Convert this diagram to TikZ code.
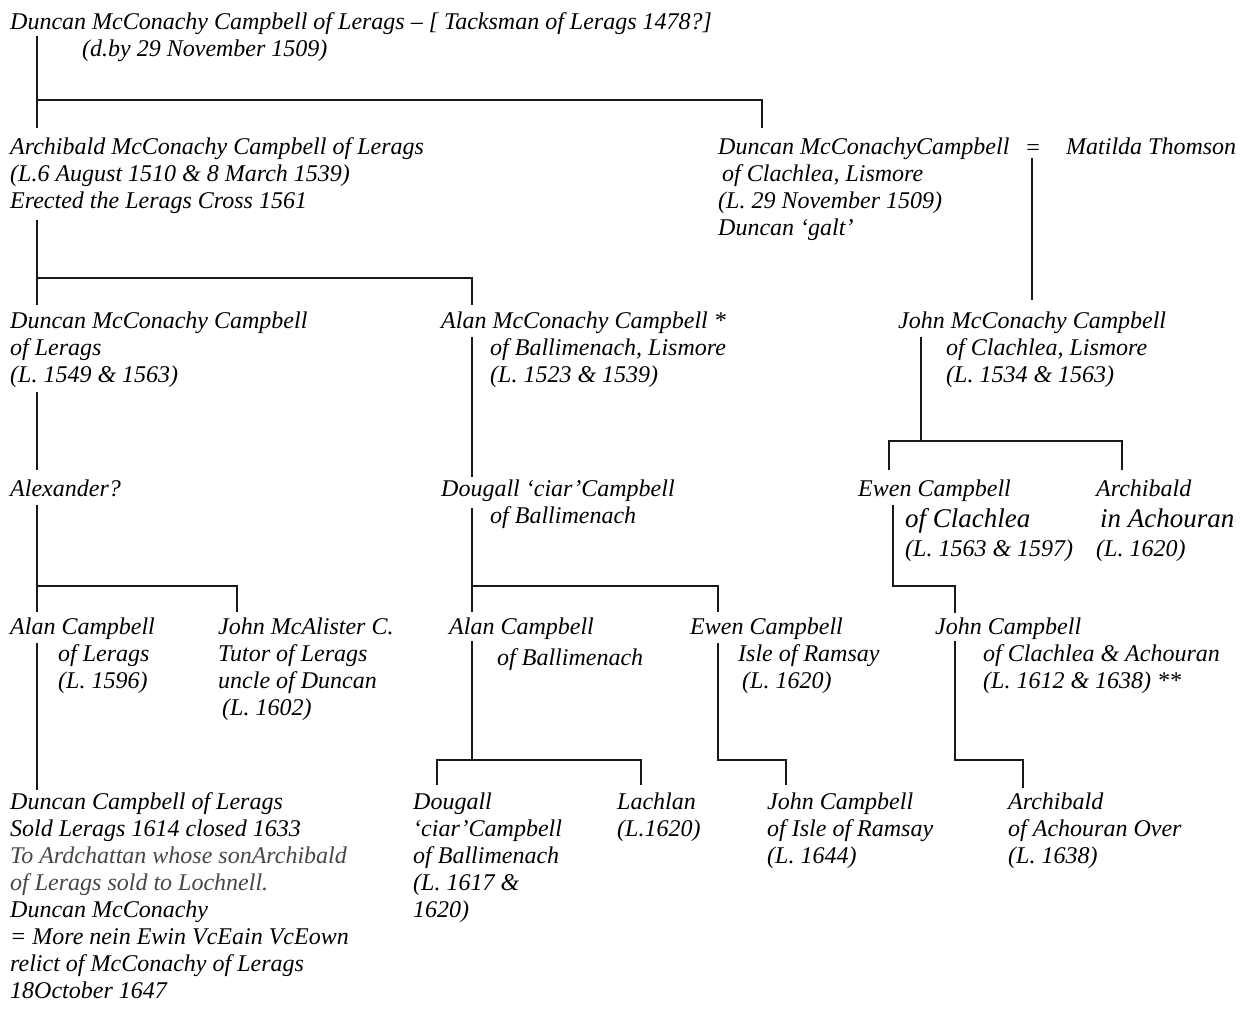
\documentclass[tikz,border=0pt]{standalone}
\usepackage{fontspec}
\setmainfont{Liberation Serif}
\newcommand{\ind}[1]{\hspace*{#1pt}}
\newcommand{\bigtxt}[1]{{\fontsize{27}{27}\selectfont #1}}
\newcommand{\rows}[1]{\begin{tabular}[t]{@{}l@{}}#1\end{tabular}}
\begin{document}
\begin{tikzpicture}[x=1pt,y=-1pt,
  person/.style={anchor=base west,inner sep=0pt,
    font=\fontsize{24}{27}\selectfont\itshape,text=black},
  link/.style={line width=2.3pt,draw=black!90,line cap=butt}]
\useasboundingbox[fill=white] (0,0) rectangle (1245,1012);
% ---------- people ----------
\node[person] (p0) at (10,29) {\rows{Duncan McConachy Campbell of Lerags -- [ Tacksman of Lerags 1478?]\\\ind{72}(d.by 29 November 1509)}};
\node[person] (p1) at (10,154) {\rows{Archibald McConachy Campbell of Lerags\\(L.6 August 1510 \& 8 March 1539)\\Erected the Lerags Cross 1561}};
\node[person] (p2) at (718,154) {\rows{Duncan McConachyCampbell\\\ind{4}of Clachlea, Lismore\\(L. 29 November 1509)\\Duncan ‘galt’}};
\node[person,anchor=base] (eq) at (1033,155) {=};
\node[person] (mt) at (1066,154) {Matilda Thomson};
\node[person] (p3) at (10,328) {\rows{Duncan McConachy Campbell\\of Lerags\\(L. 1549 \& 1563)}};
\node[person] (p4) at (441,328) {\rows{Alan McConachy Campbell *\\\ind{49}of Ballimenach, Lismore\\\ind{49}(L. 1523 \& 1539)}};
\node[person] (p5) at (898,328) {\rows{John McConachy Campbell\\\ind{48}of Clachlea, Lismore\\\ind{48}(L. 1534 \& 1563)}};
\node[person] (p6) at (10,496) {Alexander?};
\node[person] (p7) at (441,496) {\rows{Dougall ‘ciar’Campbell\\\ind{49}of Ballimenach}};
\node[person] (p8) at (858,496) {\rows{Ewen Campbell\\[4pt]\ind{47}\bigtxt{of Clachlea}\\[2pt]\ind{47}(L. 1563 \& 1597)}};
\node[person] (p9) at (1096,496) {\rows{Archibald\\[4pt]\ind{4}\bigtxt{in Achouran}\\[2pt](L. 1620)}};
\node[person] (p10) at (10,634) {\rows{Alan Campbell\\\ind{48}of Lerags\\\ind{48}(L. 1596)}};
\node[person] (p11) at (218,634) {\rows{John McAlister C.\\Tutor of Lerags\\uncle of Duncan\\\ind{4}(L. 1602)}};
\node[person] (p12) at (449,634) {\rows{Alan Campbell\\[4pt]\ind{48}of Ballimenach}};
\node[person] (p13) at (690,634) {\rows{Ewen Campbell\\\ind{48}Isle of Ramsay\\\ind{52}(L. 1620)}};
\node[person] (p14) at (935,634) {\rows{John Campbell\\\ind{48}of Clachlea \& Achouran\\\ind{48}(L. 1612 \& 1638) **}};
\node[person] (p15) at (10,809) {\rows{Duncan Campbell of Lerags\\Sold Lerags 1614 closed 1633\\{\color{black!72}To Ardchattan whose sonArchibald}\\{\color{black!72}of Lerags sold to Lochnell.}\\Duncan McConachy\\= More nein Ewin VcEain VcEown\\relict of McConachy of Lerags\\18October 1647}};
\node[person] (p16) at (413,809) {\rows{Dougall\\‘ciar’Campbell\\of Ballimenach\\(L. 1617 \&\\1620)}};
\node[person] (p17) at (617,809) {\rows{Lachlan\\(L.1620)}};
\node[person] (p18) at (767,809) {\rows{John Campbell\\of Isle of Ramsay\\(L. 1644)}};
\node[person] (p19) at (1008,809) {\rows{Archibald\\of Achouran Over\\(L. 1638)}};
% ---------- junction coordinates ----------
\coordinate (a0) at (37,36);   \coordinate (a1) at (37,100);
\coordinate (a2) at (37,128);  \coordinate (a3) at (762,100); \coordinate (a4) at (762,128);
\coordinate (b0) at (37,220);  \coordinate (b1) at (37,278);  \coordinate (b2) at (37,305);
\coordinate (b3) at (472,278); \coordinate (b4) at (472,305);
\coordinate (c0) at (37,392);  \coordinate (c1) at (37,470);
\coordinate (d0) at (472,337); \coordinate (d1) at (472,477);
\coordinate (e0) at (1032,158);\coordinate (e1) at (1032,300);
\coordinate (f0) at (921,337); \coordinate (f1) at (921,441);
\coordinate (f2) at (889,441); \coordinate (f3) at (889,470);
\coordinate (f4) at (1122,441);\coordinate (f5) at (1122,470);
\coordinate (g0) at (37,505);  \coordinate (g1) at (37,586);  \coordinate (g2) at (37,612);
\coordinate (g3) at (237,586); \coordinate (g4) at (237,612);
\coordinate (h0) at (472,508); \coordinate (h1) at (472,586); \coordinate (h2) at (472,612);
\coordinate (h3) at (718,586); \coordinate (h4) at (718,612);
\coordinate (i0) at (893,505); \coordinate (i1) at (893,586);
\coordinate (i2) at (955,586); \coordinate (i3) at (955,613);
\coordinate (j0) at (37,643);  \coordinate (j1) at (37,790);
\coordinate (k0) at (472,641); \coordinate (k1) at (472,760);
\coordinate (k2) at (437,760); \coordinate (k3) at (437,785);
\coordinate (k4) at (641,760); \coordinate (k5) at (641,785);
\coordinate (l0) at (718,643); \coordinate (l1) at (718,760);
\coordinate (l2) at (786,760); \coordinate (l3) at (786,785);
\coordinate (m0) at (955,641); \coordinate (m1) at (955,760);
\coordinate (m2) at (1023,760);\coordinate (m3) at (1023,788);
% ---------- links ----------
\draw[link] (a0) -- (a2);
\draw[link] (a1) -- (a3) -- (a4);
\draw[link] (b0) -- (b2);
\draw[link] (b1) -- (b3) -- (b4);
\draw[link] (c0) -- (c1);
\draw[link] (d0) -- (d1);
\draw[link] (e0) -- (e1);
\draw[link] (f0) -- (f1);
\draw[link] (f3) -- (f2) -- (f4) -- (f5);
\draw[link] (g0) -- (g2);
\draw[link] (g1) -- (g3) -- (g4);
\draw[link] (h0) -- (h2);
\draw[link] (h1) -- (h3) -- (h4);
\draw[link] (i0) -- (i1) -- (i2) -- (i3);
\draw[link] (j0) -- (j1);
\draw[link] (k0) -- (k1);
\draw[link] (k3) -- (k2) -- (k4) -- (k5);
\draw[link] (l0) -- (l1) -- (l2) -- (l3);
\draw[link] (m0) -- (m1) -- (m2) -- (m3);
\end{tikzpicture}
\end{document}
